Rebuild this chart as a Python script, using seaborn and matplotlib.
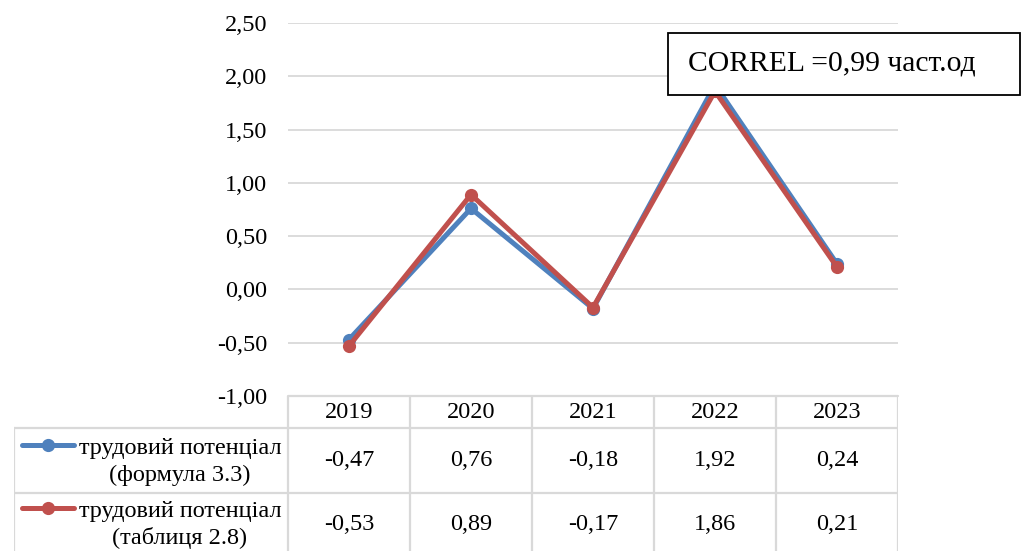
import matplotlib
matplotlib.use("Agg")
import matplotlib.pyplot as plt
from matplotlib.patches import Rectangle
import numpy as np
import pandas as pd
import seaborn as sns

# data
years = ["2019", "2020", "2021", "2022", "2023"]
formula_vals = [-0.47, 0.76, -0.18, 1.92, 0.24]
table_vals = [-0.53, 0.89, -0.17, 1.86, 0.21]
series_names = ["трудовий потенціал\n(формула 3.3)", "трудовий потенціал\n(таблиця 2.8)"]
y_ticks = [-1.0, -0.5, 0.0, 0.5, 1.0, 1.5, 2.0, 2.5]
note_text = "CORREL =0,99 част.од"

colors = ["#4F81BD", "#C0504D"]
grid_col = "#D9D9D9"
fs = 17.5

df = pd.DataFrame({
    "pos": list(range(len(years))) * 2,
    "value": formula_vals + table_vals,
    "series": [series_names[0]] * len(years) + [series_names[1]] * len(years),
})

sns.set_theme(style="white")
plt.rcParams["font.family"] = ["Liberation Serif", "DejaVu Serif"]
plt.rcParams["text.color"] = "black"
plt.rcParams["ytick.color"] = "black"

W, H = 1027, 551
fig = plt.figure(figsize=(W / 100, H / 100), dpi=100)

# plot area in pixels
px_left, px_right, px_top, px_bottom = 288, 898, 23, 396
cat_w = (px_right - px_left) / len(years)
ax = fig.add_axes([px_left / W, 1 - px_bottom / H, (px_right - px_left) / W, (px_bottom - px_top) / H])

sns.lineplot(data=df, x="pos", y="value", hue="series", palette=colors,
             marker="o", markersize=9.5, markeredgewidth=0, linewidth=3.6,
             legend=False, ax=ax)
ax.set_xlim(-0.5, len(years) - 0.5)
ax.set_ylim(y_ticks[0], y_ticks[-1])
ax.set_yticks(y_ticks)
ax.set_yticklabels([f"{v:.2f}".replace(".", ",") for v in y_ticks], fontsize=fs)
ax.tick_params(axis="y", length=0, pad=15)
ax.set_xticks([])
ax.set_xlabel("")
ax.set_ylabel("")
ax.grid(axis="y", color=grid_col, linewidth=1.3)
ax.set_axisbelow(True)
for s in ax.spines.values():
    s.set_visible(False)

# correlation note (box spans 668..1020 x 33..95 px)
fig.patches.append(Rectangle((668 / W, 1 - 95 / H), 352 / W, 62 / H, transform=fig.transFigure,
                             facecolor="white", edgecolor="black", linewidth=1.3, zorder=5))
fig.text(688 / W, 1 - 63 / H, note_text, fontsize=21.3, ha="left", va="center", zorder=6)

# data table
tbl_left = 14
left_cols = (px_left - tbl_left) / cat_w
tax = fig.add_axes([tbl_left / W, 0, (px_right - tbl_left) / W, (H - px_bottom) / H])
tax.set_xlim(-0.5 - left_cols, len(years) - 0.5)
tax.set_ylim(H, px_bottom)
tax.axis("off")

row_edges = [px_bottom, 428, 493, H]
x0 = -0.5 - left_cols
x_end = len(years) - 0.5
lw = 1.6
tax.plot([-0.5, x_end], [row_edges[0]] * 2, color=grid_col, lw=lw, clip_on=False)
for yy in row_edges[1:3]:
    tax.plot([x0, x_end], [yy, yy], color=grid_col, lw=lw)
for i in range(len(years) + 1):
    tax.plot([i - 0.5, i - 0.5], [row_edges[0], H], color=grid_col, lw=lw)
tax.plot([x0, x0], [row_edges[1], H], color=grid_col, lw=lw)

for i, yr in enumerate(years):
    tax.text(i, 413, yr, ha="center", va="center", fontsize=fs)

rows = [formula_vals, table_vals]
row_centers = [461, 524]
key_y = [445, 508]
for r, vals in enumerate(rows):
    yc = row_centers[r]
    for i, v in enumerate(vals):
        tax.text(i, yc, f"{v:.2f}".replace(".", ","), ha="center", va="center", fontsize=fs)
    kx0 = x0 + 8 / cat_w
    kx1 = x0 + 60 / cat_w
    tax.plot([kx0, kx1], [key_y[r]] * 2, color=colors[r], lw=3.6, solid_capstyle="round")
    tax.plot([(kx0 + kx1) / 2], [key_y[r]], "o", color=colors[r], markersize=9.5, markeredgewidth=0)
    tax.text(x0 + 166 / cat_w, yc + 1, series_names[r], ha="center", va="center",
             fontsize=fs, multialignment="center", linespacing=1.3)

fig.savefig("out.png", dpi=100)
